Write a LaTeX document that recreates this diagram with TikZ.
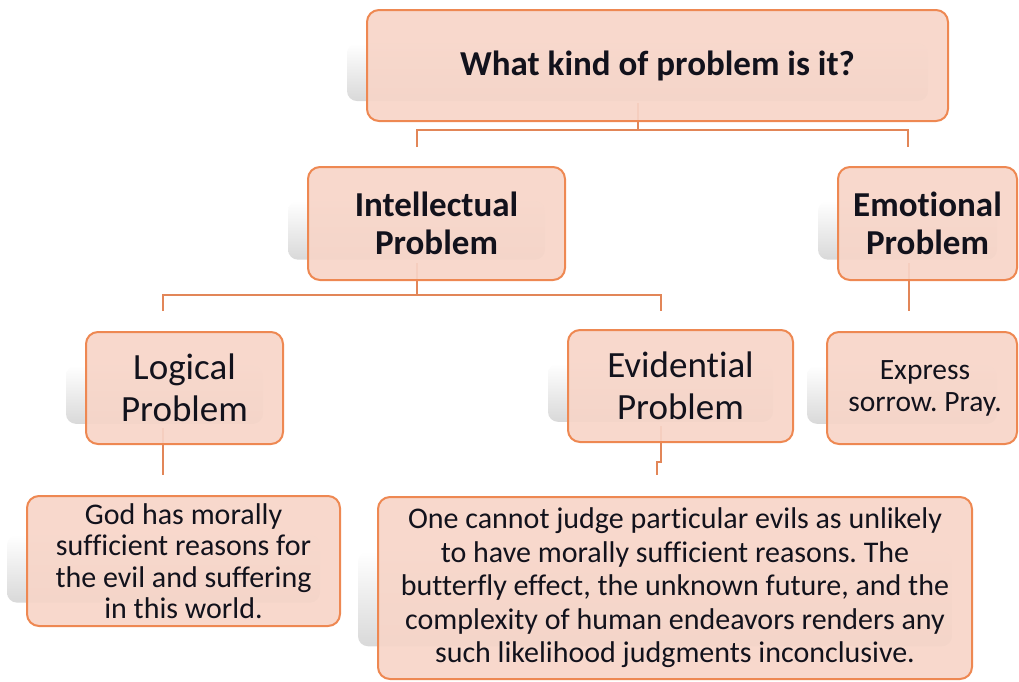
\documentclass[tikz,border=0pt]{standalone}
\usepackage{fontspec}
\setmainfont{Carlito}[Ligatures=NoCommon]
\usetikzlibrary{calc}
\frenchspacing
\definecolor{boxfill}{RGB}{247,213,200}
\definecolor{boxline}{RGB}{238,136,82}
\definecolor{connc}{RGB}{226,134,88}
\definecolor{txt}{RGB}{18,18,28}
\pgfdeclarelayer{background}
\pgfsetlayers{background,main}
\tikzset{
  pbox/.style={draw=boxline, line width=2pt, fill=boxfill, fill opacity=0.92, text opacity=1,
    rounded corners=12pt, align=center, inner sep=0pt, text=txt},
  conn/.style={draw=connc, line width=2pt},
  shadowbox/.style={rounded corners=10pt, top color=white, bottom color=black!15, draw=none},
}
\newcommand{\mybox}[7]{%
  \shade[shadowbox] ({#2-#4/2-20},{#3-#5/2+0.3*#5}) rectangle ({#2+#4/2-20},{#3+#5/2-0.18*#5});
  \node[pbox, minimum width=#4pt, minimum height=#5pt, font={#6}] (#1) at (#2,#3) {#7};
}
\begin{document}
\begin{tikzpicture}[x=1pt,y=-1pt]
\useasboundingbox (0,0) rectangle (1019,681);
\mybox{top}{657.5}{65.5}{581}{111}{\fontsize{35}{38}\selectfont\bfseries}{What kind of problem is it?}
\mybox{intel}{436.5}{223.5}{257}{113}{\fontsize{35}{38}\selectfont\bfseries}{Intellectual\\Problem}
\mybox{emot}{927.5}{223.5}{179}{113}{\fontsize{35}{38}\selectfont\bfseries}{Emotional\\Problem}
\mybox{logic}{184.5}{388}{197}{112}{\fontsize{37}{42}\selectfont}{Logical\\Problem}
\mybox{evid}{680.5}{386}{225}{112}{\fontsize{37}{42}\selectfont}{Evidential\\Problem}
\mybox{expr}{922}{388}{190}{112}{\fontsize{29.5}{32}\selectfont}{\hspace*{6pt}Express\\\hspace*{6pt}sorrow. Pray.}
\mybox{god}{183.5}{561}{313}{130}{\fontsize{30}{31.5}\selectfont}{God has morally\\sufficient reasons for\\the evil and suffering\\in this world.}
\mybox{one}{675}{588}{594}{182}{\fontsize{30}{33.5}\selectfont}{One cannot judge particular evils as unlikely\\to have morally sufficient reasons. The\\butterfly effect, the unknown future, and the\\complexity of human endeavors renders any\\such likelihood judgments inconclusive.}
\coordinate (j1) at (638,130);
\coordinate (i1) at (417,147);
\coordinate (m1) at (908,147);
\coordinate (j2) at (417,295);
\coordinate (l1) at (163,311);
\coordinate (v1) at (661,311);
\coordinate (m2) at (909,311);
\coordinate (l2) at (163,475);
\coordinate (v2) at (661,462);
\coordinate (v3) at (657,475);
\begin{pgfonlayer}{background}
\draw[conn] ([yshift=19pt]top.south -| j1) -- (j1);
\draw[conn] (i1) |- (j1) -| (m1);
\draw[conn] ([yshift=18pt]intel.south -| j2) -- (j2);
\draw[conn] (l1) |- (j2) -| (v1);
\draw[conn] ([yshift=18pt]emot.south -| m2) -- (m2);
\draw[conn] ([yshift=17pt]logic.south -| l2) -- (l2);
\draw[conn] ([yshift=17pt]evid.south -| v2) -- (v2) -- (v2 -| v3) -- (v3);
\end{pgfonlayer}
\end{tikzpicture}
\end{document}
